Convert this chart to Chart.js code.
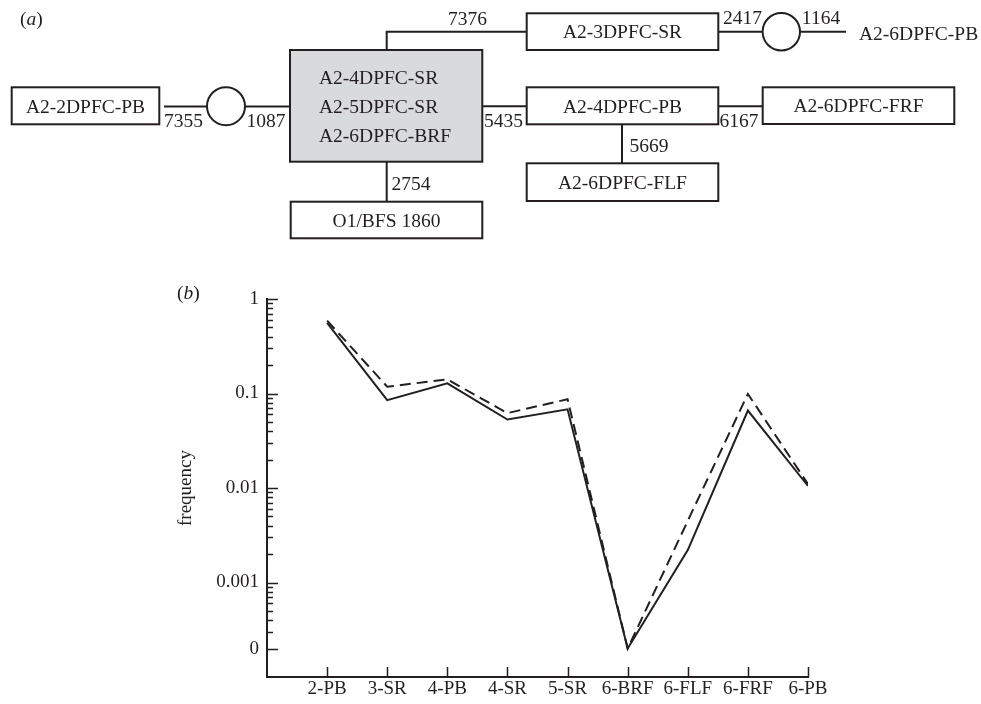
<!DOCTYPE html>
<html>
<head>
<meta charset="utf-8">
<script src="https://cdn.jsdelivr.net/npm/chart.js@4.4.1/dist/chart.umd.min.js"></script>
<style>
  html, body { margin: 0; padding: 0; background: #fff; }
  #wrap { position: relative; width: 981px; height: 704px; }
  #chart { position: absolute; left: 0; top: 0; }
  #diagram { position: absolute; left: 0; top: 0; pointer-events: none; }
  #diagram text { font-family: 'Liberation Serif', 'Times New Roman', serif; font-size: 19.5px; fill: #231f20; }
  #diagram .box { fill: #fff; stroke: #231f20; stroke-width: 2; }
  #diagram .shade { fill: #d9dadb; stroke: #231f20; stroke-width: 2; }
  #diagram .wire { fill: none; stroke: #231f20; stroke-width: 2; }
</style>
</head>
<body>
<div id="wrap">
  <canvas id="chart" width="981" height="704"></canvas>
  <svg id="diagram" width="981" height="704">
    <text x="20" y="25">(<tspan font-style="italic">a</tspan>)</text>

    <!-- left branch -->
    <rect class="box" x="11.7" y="87.3" width="147.6" height="37"/>
    <text x="85.5" y="106" text-anchor="middle" dominant-baseline="central">A2-2DPFC-PB</text>
    <line class="wire" x1="164" y1="106.5" x2="207" y2="106.5"/>
    <circle class="wire" cx="226" cy="106.2" r="19"/>
    <line class="wire" x1="245" y1="106.5" x2="290" y2="106.5"/>
    <text x="183.5" y="120" text-anchor="middle" dominant-baseline="central">7355</text>
    <text x="266" y="120" text-anchor="middle" dominant-baseline="central">1087</text>

    <!-- central block -->
    <rect class="shade" x="290" y="50" width="192.3" height="111.7"/>
    <text x="319" y="77" dominant-baseline="central">A2-4DPFC-SR</text>
    <text x="319" y="106" dominant-baseline="central">A2-5DPFC-SR</text>
    <text x="319" y="135" dominant-baseline="central">A2-6DPFC-BRF</text>

    <!-- top branch -->
    <polyline class="wire" points="386.7,50 386.7,31.7 526.7,31.7"/>
    <text x="467.5" y="18" text-anchor="middle" dominant-baseline="central">7376</text>
    <rect class="box" x="526.7" y="13.3" width="191.6" height="36.7"/>
    <text x="622.5" y="31.7" text-anchor="middle" dominant-baseline="central">A2-3DPFC-SR</text>
    <line class="wire" x1="718.3" y1="31.7" x2="762.6" y2="31.7"/>
    <circle class="wire" cx="781.3" cy="31.7" r="18.7"/>
    <line class="wire" x1="800" y1="31.7" x2="846" y2="31.7"/>
    <text x="742.5" y="17.5" text-anchor="middle" dominant-baseline="central">2417</text>
    <text x="821" y="17.5" text-anchor="middle" dominant-baseline="central">1164</text>
    <text x="859" y="33" dominant-baseline="central">A2-6DPFC-PB</text>

    <!-- middle branch -->
    <line class="wire" x1="482.3" y1="106.3" x2="526.7" y2="106.3"/>
    <text x="503.5" y="120.5" text-anchor="middle" dominant-baseline="central">5435</text>
    <rect class="box" x="526.7" y="87.3" width="191.6" height="37"/>
    <text x="622.5" y="106" text-anchor="middle" dominant-baseline="central">A2-4DPFC-PB</text>
    <line class="wire" x1="718.3" y1="106.3" x2="762.7" y2="106.3"/>
    <text x="739" y="120.5" text-anchor="middle" dominant-baseline="central">6167</text>
    <rect class="box" x="762.7" y="87.3" width="191.6" height="36.7"/>
    <text x="858.5" y="105.8" text-anchor="middle" dominant-baseline="central">A2-6DPFC-FRF</text>
    <line class="wire" x1="622" y1="124.3" x2="622" y2="163.3"/>
    <text x="649" y="145" text-anchor="middle" dominant-baseline="central">5669</text>
    <rect class="box" x="526.7" y="163.3" width="191.6" height="37.7"/>
    <text x="622.5" y="182.2" text-anchor="middle" dominant-baseline="central">A2-6DPFC-FLF</text>

    <!-- bottom branch -->
    <line class="wire" x1="386.7" y1="161.7" x2="386.7" y2="201.7"/>
    <text x="411" y="183" text-anchor="middle" dominant-baseline="central">2754</text>
    <rect class="box" x="290.7" y="201.7" width="191.6" height="36.6"/>
    <text x="386.5" y="220" text-anchor="middle" dominant-baseline="central">O1/BFS 1860</text>

    <text x="177" y="299">(<tspan font-style="italic">b</tspan>)</text>
  </svg>
</div>
<script>
const categories = ['2-PB', '3-SR', '4-PB', '4-SR', '5-SR', '6-BRF', '6-FLF', '6-FRF', '6-PB'];
const solidSeries = [0.56, 0.085, 0.128, 0.053, 0.068, 0, 0.0022, 0.066, 0.0105];
const dashedSeries = [0.59, 0.118, 0.141, 0.062, 0.087, 0, 0.0045, 0.099, 0.011];
const yTickValues = [1, 0.1, 0.01, 0.001, 0.0002];
const yTickLabels = ['1', '0.1', '0.01', '0.001', '0'];
const ZERO_AT = 0.0002; // the log axis shows "0" at this height

const INK = '#231f20';
const FONT = { family: "'Liberation Serif', 'Times New Roman', serif", size: 19 };

const toPoints = arr => arr.map((v, i) => ({ x: i, y: v === 0 ? ZERO_AT : v }));

// ticks point into the plot, with short minor ticks on the log axis
const innerTicks = {
    id: 'innerTicks',
    afterDraw(chart) {
        const { ctx, scales: { x, y } } = chart;
        const x0 = x.left, y0 = y.bottom;
        ctx.save();
        ctx.strokeStyle = INK;
        ctx.lineWidth = 1.5;
        ctx.beginPath();
        for (let e = -4; e < 0; e++) {
            for (let k = 2; k <= 9; k++) {
                const v = k * Math.pow(10, e);
                if (v < ZERO_AT * 1.01) continue;
                const py = Math.round(y.getPixelForValue(v)) + 0.5;
                ctx.moveTo(x0, py);
                ctx.lineTo(x0 + 6, py);
            }
        }
        yTickValues.forEach(v => {
            const py = Math.round(y.getPixelForValue(v)) + 0.5;
            ctx.moveTo(x0, py);
            ctx.lineTo(x0 + 11, py);
        });
        categories.forEach((c, i) => {
            const px = Math.round(x.getPixelForValue(i)) + 0.5;
            ctx.moveTo(px, y0);
            ctx.lineTo(px, y0 - 10);
        });
        ctx.stroke();
        ctx.restore();
    }
};

new Chart(document.getElementById('chart').getContext('2d'), {
    type: 'line',
    data: {
        datasets: [
            {
                label: 'solid',
                data: toPoints(solidSeries),
                borderColor: INK,
                borderWidth: 2,
                pointRadius: 0,
                tension: 0,
                fill: false
            },
            {
                label: 'dashed',
                data: toPoints(dashedSeries),
                borderColor: INK,
                borderWidth: 2,
                borderDash: [11, 6],
                pointRadius: 0,
                tension: 0,
                fill: false
            }
        ]
    },
    options: {
        responsive: false,
        animation: false,
        layout: { padding: { left: 167, top: 299, right: 173, bottom: 0 } },
        plugins: {
            legend: { display: false },
            tooltip: { enabled: false }
        },
        scales: {
            x: {
                type: 'linear',
                min: -1,
                max: 8,
                grid: { display: false, drawTicks: false },
                border: { display: true, width: 2, color: INK },
                afterBuildTicks: s => { s.ticks = categories.map((c, i) => ({ value: i })); },
                afterFit: s => { s.height = 27; },
                ticks: {
                    callback: v => categories[v] ?? '',
                    color: INK,
                    font: FONT,
                    padding: 1,
                    maxRotation: 0,
                    autoSkip: false
                }
            },
            y: {
                type: 'logarithmic',
                min: 0.0001,
                max: 1,
                grid: { display: false, drawTicks: false },
                border: { display: true, width: 2, color: INK },
                afterBuildTicks: s => { s.ticks = yTickValues.map(v => ({ value: v })); },
                afterFit: s => { s.width = 100; },
                ticks: {
                    callback: (v, i) => yTickLabels[i],
                    color: INK,
                    font: FONT,
                    padding: 8
                },
                title: {
                    display: true,
                    text: 'frequency',
                    color: INK,
                    font: FONT,
                    padding: { top: 7.6, bottom: 4 }
                }
            }
        }
    },
    plugins: [innerTicks]
});
</script>
</body>
</html>
